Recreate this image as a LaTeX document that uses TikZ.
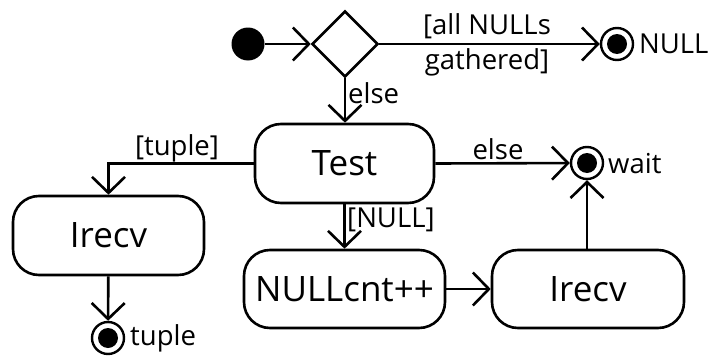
\documentclass[tikz,border=0pt]{standalone}
\usepackage{fontspec}
\setmainfont{Open Sans}
\usetikzlibrary{arrows.meta,shapes.geometric}

\tikzset{
  flow/.style={line width=2.6pt, -{Straight Barb[length=16pt,width=33pt,line width=2.6pt]}},
  action/.style={draw, line width=2.6pt, rectangle, rounded corners=26pt,
    inner sep=0pt, font=\fontsize{35}{40}\selectfont},
  initial/.style={circle, fill=black, minimum size=33pt, inner sep=0pt},
  final/.style={circle, draw, line width=2.4pt, minimum size=32pt, inner sep=0pt,
    path picture={\fill (path picture bounding box.center) circle (10pt);}},
  choice/.style={diamond, draw, line width=2.6pt, minimum width=66pt,
    minimum height=66pt, inner sep=0pt},
  lbl/.style={inner sep=0pt, font=\fontsize{27.5}{34.5}\selectfont},
}

\begin{document}
\begin{tikzpicture}[x=1pt, y=-1pt]
  \useasboundingbox (0,0) rectangle (712,356);

  % states
  \node[initial] (init) at (248,44) {};
  \node[choice] (dec) at (345,44) {};
  \node[final] (finNull) at (617,44) {};
  \node[action, minimum width=179pt, minimum height=79pt] (test) at (344.5,163.5) {Test};
  \node[action, minimum width=191pt, minimum height=79pt] (irecvA) at (108.5,235.5) {Irecv};
  \node[final] (finTuple) at (108,338) {};
  \node[final] (finWait) at (587,163) {};
  \node[action, minimum width=201pt, minimum height=78pt] (nullcnt) at (344.5,289) {NULLcnt++};
  \node[action, minimum width=192pt, minimum height=78pt] (irecvB) at (588,289) {Irecv};

  % transitions
  \draw[flow] (init) -- (dec.west);
  \draw[flow] (dec.east) -- (finNull);
  \draw[flow] (dec.south) -- (test.north -| dec.south);
  \draw[flow] (test.west) -| (irecvA.north);
  \draw[flow] (irecvA) -- (finTuple);
  \draw[flow] (test.east) -- (finWait);
  \draw[flow] (test.south) -- (nullcnt.north);
  \draw[flow] (nullcnt) -- (irecvB);
  \draw[flow] (irecvB.north -| finWait) -- (finWait);

  % guards and names
  \node[lbl, align=center] (gAll) at (487,45) {[all NULLs\\gathered]};
  \node[lbl, anchor=west] (nNull) at (639,44) {NULL};
  \node[lbl, anchor=west] (gElse1) at (348,93) {else};
  \node[lbl] (gTuple) at (177,148) {[tuple]};
  \node[lbl] (gElse2) at (498,149) {else};
  \node[lbl, anchor=west] (gNull) at (347,220) {[NULL]};
  \node[lbl, anchor=west] (nWait) at (608,164) {wait};
  \node[lbl, anchor=west] (nTuple) at (130,338) {tuple};
\end{tikzpicture}
\end{document}
